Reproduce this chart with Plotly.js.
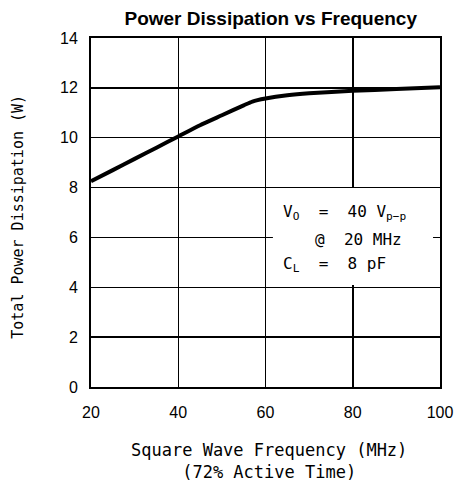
<!DOCTYPE html>
<html><head><meta charset="utf-8">
<script src="https://cdn.plot.ly/plotly-3.0.1.min.js"></script>
<style>body{margin:0;background:#fff}#c{width:461px;height:490px}</style>
</head><body><div id="c"></div>
<script>
const freqMHz = [20, 25, 30, 35, 40, 45, 50, 55, 57, 60, 65, 70, 80, 90, 100];
const powerW  = [8.25, 8.7, 9.15, 9.6, 10.05, 10.5, 10.9, 11.3, 11.45, 11.57, 11.7, 11.78, 11.88, 11.95, 12.02];
const xTicks = [20, 40, 60, 80, 100];
const yTicks = [0, 2, 4, 6, 8, 10, 12, 14];
const noteLines = ["V<sub>O</sub>  =  40 V<sub>p−p</sub>", "@  20 MHz", "C<sub>L</sub>  =  8 pF"];
const xTitle = 'Square Wave Frequency (MHz)<br>(72% Active Time)';
const yTitle = 'Total Power Dissipation (W)';

const mono = "DejaVu Sans Mono";
const sans = "Liberation Sans";
const trace = {x: freqMHz, y: powerW, mode: 'lines', line: {color: '#000', width: 4, shape: 'spline', smoothing: 0.6}, hoverinfo: 'skip'};

const axisBase = {showline: true, linecolor: '#000', linewidth: 2, mirror: true, showgrid: true, gridcolor: '#000', gridwidth: 1.5, zeroline: false, ticks: '', tickfont: {family: sans, size: 16, color: '#000'}, fixedrange: true};

const layout = {
  width: 461, height: 490,
  margin: {l: 91, r: 21, t: 38, b: 103},
  paper_bgcolor: '#fff', plot_bgcolor: '#fff',
  showlegend: false,
  title: {text: '<b>Power Dissipation vs Frequency</b>', font: {family: 'Liberation Sans, Arial', size: 19, color: '#000'}, xref: 'paper', x: 0.515, xanchor: 'center', y: 0.963, yanchor: 'middle'},
  xaxis: Object.assign({}, axisBase, {range: [20, 100], tickvals: xTicks, ticktext: xTicks.map(String), ticklabelstandoff: 10}),
  yaxis: Object.assign({}, axisBase, {range: [0, 14], tickvals: yTicks, ticktext: yTicks.map(String), ticklabelstandoff: 8}),
  shapes: [{type: 'rect', xref: 'x', yref: 'y', x0: 61.7, x1: 98.4, y0: 4.09, y1: 7.98, fillcolor: '#fff', line: {width: 0}, layer: 'above'}],
  annotations: [
    {xref: 'x', yref: 'y', x: 63.5, y: 7.0, text: noteLines[0], showarrow: false, xanchor: 'left', yanchor: 'middle', font: {family: mono, size: 16, color: '#000'}},
    {xref: 'x', yref: 'y', x: 70.8, y: 5.92, text: noteLines[1], showarrow: false, xanchor: 'left', yanchor: 'middle', font: {family: mono, size: 16, color: '#000'}},
    {xref: 'x', yref: 'y', x: 63.5, y: 4.9, text: noteLines[2], showarrow: false, xanchor: 'left', yanchor: 'middle', font: {family: mono, size: 16, color: '#000'}},
    {xref: 'paper', yref: 'paper', x: 0.51, y: -0.213, text: xTitle, showarrow: false, xanchor: 'center', yanchor: 'middle', font: {family: mono, size: 17, color: '#000'}},
    {xref: 'paper', yref: 'paper', x: -0.21, y: 0.487, text: yTitle, textangle: -90, showarrow: false, xanchor: 'center', yanchor: 'middle', font: {family: mono, size: 15, color: '#000'}}
  ]
};
Plotly.newPlot('c', [trace], layout, {displayModeBar: false, staticPlot: true});
</script></body></html>
